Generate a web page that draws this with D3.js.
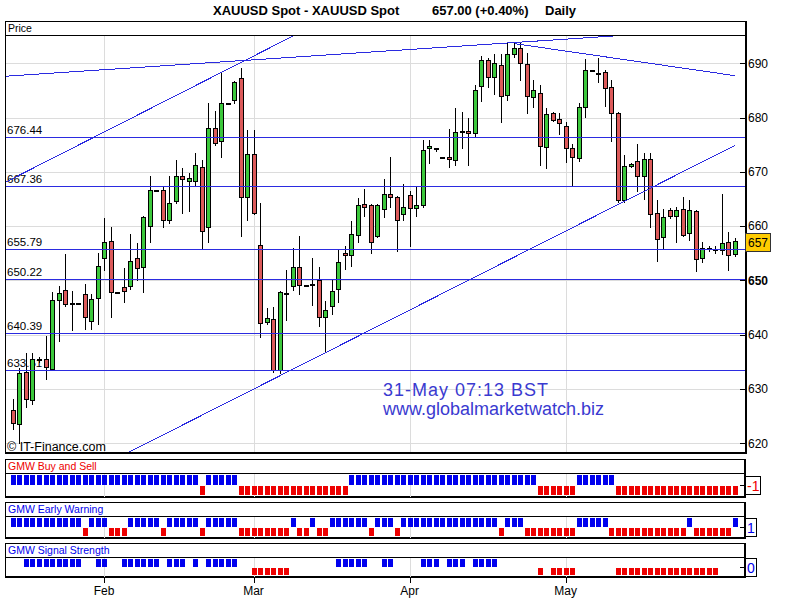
<!DOCTYPE html>
<html><head><meta charset="utf-8">
<script src="https://cdn.jsdelivr.net/npm/d3@7"></script>
<style>
body{margin:0;background:#fff}
svg{display:block}
text{font-family:"Liberation Sans",Arial,sans-serif}
</style>
</head><body>
<svg id="c" width="800" height="600"></svg>
<script>
// ---------- data ----------
const opens = [626.1,623.6,633.1,628.0,635.3,635.6,633.7,646.3,648.3,645.8,645.8,647.4,642.6,646.8,654.2,657.2,647.8,648.7,648.9,654.2,
652.5,660.1,666.7,666.6,661.2,664.6,669.2,668.3,668.3,670.8,659.9,678.0,675.6,682.6,683.3,687.2,665.3,673.2,656.6,642.3,
642.8,633.4,647.6,648.9,652.4,649.2,649.3,650.0,643.2,645.3,648.5,655.1,654.7,658.4,664.0,663.8,658.2,663.1,666.0,665.3,
662.3,665.8,663.4,663.8,674.3,674.4,672.7,672.8,672.2,677.5,677.5,677.1,685.8,690.6,687.4,689.6,684.2,691.7,692.8,689.9,
683.7,684.6,674.5,680.9,679.8,678.5,674.3,672.6,682.0,688.8,688.2,688.3,685.7,680.8,664.8,671.0,671.9,669.3,672.3,662.5,
657.9,663.0,661.9,663.1,658.8,662.7,654.2,655.9,655.7,655.6,657.0,654.8];
const highs = [628.1,633.8,636.6,636.6,635.9,639.8,647.8,649.0,654.8,648.0,645.8,649.3,647.4,655.0,661.5,659.9,647.8,652.2,658.5,656.8,
661.8,669.2,666.7,667.2,669.2,672.1,670.7,669.8,673.4,672.1,682.6,681.2,688.3,682.6,686.8,689.2,677.7,677.7,664.2,644.9,
645.1,648.1,651.9,655.9,658.1,649.2,654.1,652.5,646.2,650.2,655.7,656.3,661.0,665.1,666.8,664.0,664.0,668.6,672.8,665.5,
667.7,666.4,667.4,675.8,675.8,674.4,672.7,677.8,681.7,681.0,679.9,685.9,691.3,691.0,691.7,691.7,693.7,693.8,693.7,691.8,
686.9,685.9,681.8,681.0,680.8,679.2,675.1,682.6,690.7,688.8,690.9,688.8,686.9,681.0,673.1,671.6,675.2,673.5,673.5,664.8,
663.1,663.4,663.5,665.3,664.8,662.9,657.1,656.3,656.4,665.9,658.9,657.8];
const lows = [622.7,620.1,626.7,627.2,635.0,631.9,633.5,638.8,645.2,640.8,645.8,641.0,641.0,642.0,652.0,643.2,647.8,646.0,648.4,650.1,
647.9,657.1,666.7,659.9,660.5,664.3,662.5,662.8,667.6,655.9,657.1,674.9,672.7,682.6,682.6,658.2,661.1,662.2,639.6,641.9,
633.1,633.0,642.7,648.2,647.4,649.2,645.5,641.6,637.0,643.8,646.0,652.1,652.7,657.0,661.9,655.1,658.0,661.7,663.5,655.4,
661.2,656.3,661.9,663.6,671.6,673.8,672.7,670.8,671.3,674.4,671.3,676.6,683.1,685.7,684.4,679.1,683.2,691.2,686.9,680.8,
682.0,671.3,670.7,679.4,677.0,671.8,667.5,672.0,680.1,688.8,686.6,682.1,675.7,664.5,664.5,670.9,666.5,664.9,659.9,653.6,
655.9,661.5,657.1,658.2,657.4,651.7,653.4,655.5,655.0,654.8,652.0,654.4];
const closes = [623.8,632.9,628.2,635.6,635.5,634.1,646.4,647.6,645.7,645.8,645.8,643.2,646.5,652.7,657.0,647.8,647.8,648.1,653.5,652.2,
661.6,666.7,666.7,661.2,664.2,669.3,668.6,668.9,671.2,659.1,678.0,675.3,682.6,682.6,686.6,665.3,673.2,662.5,642.2,643.0,
633.4,647.8,647.6,652.4,649.2,649.2,649.3,643.2,644.5,648.0,653.3,654.7,658.6,663.8,663.6,657.0,663.8,666.0,665.4,661.1,
663.6,663.4,663.8,674.1,674.7,674.4,672.7,672.4,677.4,677.5,677.2,685.0,690.6,687.5,690.0,684.0,691.7,692.8,690.1,683.9,
685.0,674.7,680.7,679.6,678.9,674.3,672.8,682.0,688.7,688.8,688.2,685.5,680.9,664.8,671.0,671.5,669.2,672.3,662.3,657.7,
661.6,661.8,662.9,658.4,662.9,654.0,655.9,655.9,655.7,656.8,654.6,657.2];

// indicator signals per bar: 1 = blue (up), -1 = red (down), 0 = none
const buySell = [1,1,1,1,1,1,1,1,1,1,1,1,1,1,1,1,1,1,1,1,1,1,1,1,1,1,1,1,1,-1,
1,1,1,1,1,-1,-1,-1,-1,-1,-1,-1,-1,-1,-1,-1,-1,-1,-1,-1,-1,-1,
1,1,1,1,1,1,1,1,1,1,1,1,1,1,1,1,1,1,1,1,1,1,1,1,1,1,1,1,1,
-1,-1,-1,-1,-1,-1,1,1,1,1,1,1,
-1,-1,-1,-1,-1,-1,-1,-1,-1,-1,-1,-1,-1,-1,-1,-1,-1,-1,-1];
const earlyWarning = [1,1,1,1,1,1,1,1,1,1,1,-1,1,1,1,-1,-1,-1,1,1,1,1,1,-1,1,1,1,1,1,-1,
1,1,1,1,1,-1,-1,-1,-1,-1,-1,-1,-1,1,-1,-1,1,-1,-1,1,1,1,1,1,1,-1,1,1,1,-1,
1,1,1,1,1,1,1,1,1,1,1,1,1,1,1,-1,1,1,1,-1,-1,-1,-1,-1,-1,-1,-1,
1,1,1,1,1,-1,-1,-1,-1,-1,-1,-1,-1,-1,-1,-1,-1,1,-1,-1,-1,-1,-1,-1,1];
const signalStrength = [0,0,1,1,1,1,1,1,1,1,1,0,0,1,1,0,0,1,1,1,1,1,1,0,1,1,1,0,1,0,
1,1,1,1,1,0,0,-1,-1,-1,-1,-1,-1,0,0,0,0,0,0,0,1,1,1,1,1,0,0,1,1,0,
0,0,0,1,1,1,0,1,1,1,0,1,1,1,1,0,0,0,0,0,0,-1,0,-1,-1,-1,-1,0,0,0,
0,0,0,-1,-1,-1,-1,-1,-1,-1,-1,-1,-1,-1,-1,-1,-1,-1,-1,0,0,0];

const monthLabels = ["Feb","Mar","Apr","May"];
const monthIndex = [14,37,61,85];
const priceTicks = [620,630,640,650,660,670,680,690];
const levels = [676.44,667.36,655.79,650.22,640.39,633.51];
const levelLabels = ["676.44","667.36","655.79","650.22","640.39","633.51"];
// trend lines as [barIndex, price] pairs
const trendA = [[-2,667.57],[45,696.19]];
const trendB = [[-1.23,687.6],[93.4,695.1]];
const trendC = [[77.2,693.6],[111.1,687.7]];
const trendD = [[10,613.6],[111.1,674.9]];
const lastPrice = "657";
const titleParts = ["XAUUSD Spot - XAUUSD Spot", "657.00 (+0.40%)", "Daily"];
const panelNames = ["GMW Buy and Sell","GMW Early Warning","GMW Signal Strength"];
const panelValues = ["-1","1","0"];

// ---------- drawing ----------
const svg = d3.select("#c");
const L = 5, R = 745, T = 35, B = 453, TT = 21;
const x = d3.scaleLinear().domain([-1.23, 112.6]).range([L, R]);
const y = d3.scaleLinear().domain([618.2, 695.2]).range([B, T]);
const idx = d3.range(opens.length);
const blueLine = "#2b2be0";
const gridC = "#dcdcdc";

// title
const titleX = [213, 432, 545];
svg.selectAll(".title").data(titleParts).join("text")
  .attr("x", (d,i) => titleX[i]).attr("y", 15).attr("font-size", 13).attr("font-weight","bold")
  .text(d => d);

// main frame background
svg.append("rect").attr("x", L).attr("y", TT).attr("width", R-L).attr("height", B-TT).attr("fill","#fff");
svg.append("defs").append("clipPath").attr("id","pc").append("rect")
  .attr("x", L).attr("y", T).attr("width", R-L).attr("height", B-T);

const plot = svg.append("g");
// grid
plot.selectAll(".hg").data(priceTicks).join("line")
  .attr("x1", L).attr("x2", R).attr("y1", d => Math.round(y(d))+0.5).attr("y2", d => Math.round(y(d))+0.5)
  .attr("stroke", gridC);
plot.selectAll(".vg").data(monthIndex).join("line")
  .attr("x1", d => Math.round(x(d))+0.5).attr("x2", d => Math.round(x(d))+0.5)
  .attr("y1", T).attr("y2", B).attr("stroke", gridC);

// level labels (under candles)
plot.selectAll(".ll").data(levels).join("text")
  .attr("x", 7).attr("y", d => Math.round(y(d)) - 3).attr("font-size", 11.5).attr("fill","#000")
  .text((d,i) => levelLabels[i]);

// watermark texts
svg.append("text").attr("x", 7).attr("y", 451).attr("font-size", 12.5).text("© IT-Finance.com");
svg.append("text").attr("x", 383).attr("y", 396).attr("font-size", 18).attr("fill","#3a3ad0")
  .attr("textLength", 165).text("31-May 07:13 BST");
svg.append("text").attr("x", 383).attr("y", 415).attr("font-size", 18).attr("fill","#3a3ad0").text("www.globalmarketwatch.biz");

// candles
const cg = plot.append("g").attr("clip-path","url(#pc)").attr("shape-rendering","crispEdges");
cg.selectAll(".wick").data(idx).join("line")
  .attr("x1", i => Math.round(x(i))+0.5).attr("x2", i => Math.round(x(i))+0.5)
  .attr("y1", i => Math.round(y(highs[i]))).attr("y2", i => Math.round(y(lows[i]))+1)
  .attr("stroke","#000");
cg.selectAll(".body").data(idx).join("rect")
  .attr("x", i => Math.round(x(i))-1.5).attr("width", 4)
  .attr("y", i => Math.round(y(Math.max(opens[i],closes[i])))+0.5)
  .attr("height", i => Math.max(1, Math.round(y(Math.min(opens[i],closes[i]))) - Math.round(y(Math.max(opens[i],closes[i])))))
  .attr("fill", i => closes[i] > opens[i] + 0.15 ? "#3cc83c" : (closes[i] < opens[i] - 0.15 ? "#dc5a5a" : "#000"))
  .attr("stroke","#000");

// level lines and trend lines on top
const lg = plot.append("g").attr("clip-path","url(#pc)");
lg.selectAll(".lv").data(levels).join("line")
  .attr("x1", L).attr("x2", R).attr("y1", d => Math.round(y(d))+0.5).attr("y2", d => Math.round(y(d))+0.5)
  .attr("stroke", blueLine).attr("shape-rendering","crispEdges");
const line = d3.line().x(d => x(d[0])).y(d => y(d[1]));
lg.selectAll(".tl").data([trendA, trendB, trendC, trendD]).join("path")
  .attr("d", line).attr("fill","none").attr("stroke", blueLine).attr("stroke-width", 1)
  .attr("shape-rendering","crispEdges");

// frame
svg.append("rect").attr("x", L+0.5).attr("y", TT+0.5).attr("width", R-L).attr("height", B-TT-1)
  .attr("fill","none").attr("stroke","#000");
svg.append("line").attr("x1", L).attr("x2", R+1).attr("y1", T+0.5).attr("y2", T+0.5).attr("stroke","#000");
svg.append("line").attr("x1", R+1.5).attr("x2", R+1.5).attr("y1", TT).attr("y2", B+1).attr("stroke","#000");
svg.append("line").attr("x1", L).attr("x2", R+2).attr("y1", B+0.5).attr("y2", B+0.5).attr("stroke","#000");
svg.append("text").attr("x", 8).attr("y", 32).attr("font-size", 10.5).text("Price");

// right axis
const ax = svg.append("g");
ax.selectAll(".tk").data(priceTicks).join("line")
  .attr("x1", R-5).attr("x2", R).attr("y1", d => Math.round(y(d))+0.5).attr("y2", d => Math.round(y(d))+0.5)
  .attr("stroke","#000").attr("shape-rendering","crispEdges");
ax.selectAll(".tl").data(priceTicks).join("text")
  .attr("x", R+3).attr("y", d => y(d)).attr("dy","0.36em").attr("font-size", 12)
  .attr("font-weight", d => d === 650 ? "bold" : "normal").text(d => d);
// last price box
const lp = svg.append("g");
lp.append("rect").attr("x", R+0.5).attr("y", Math.round(y(+lastPrice))-8.5).attr("width", 25).attr("height", 18)
  .attr("fill","#ffcc00").attr("stroke","#333");
lp.append("text").attr("x", R+3).attr("y", y(+lastPrice)).attr("dy","0.36em").attr("font-size", 12).text(lastPrice);

// ---------- indicator panels ----------
const panels = [
  {top:459, sep:473, bottom:497, data: buySell, titleColor:"#ee0000", valColor:"#ee0000"},
  {top:502, sep:516, bottom:538, data: earlyWarning, titleColor:"#0000ee", valColor:"#0000ee"},
  {top:543, sep:557, bottom:577, data: signalStrength, titleColor:"#0000ee", valColor:"#0000ee"}
];
panels.forEach((p, k) => {
  const g = svg.append("g").attr("shape-rendering","crispEdges");
  g.append("rect").attr("x", L+0.5).attr("y", p.top+0.5).attr("width", R-L-1).attr("height", p.bottom-p.top-1)
    .attr("fill","#fff").attr("stroke","#000");
  g.selectAll(".vg").data(monthIndex).join("line")
    .attr("x1", d => Math.round(x(d))+0.5).attr("x2", d => Math.round(x(d))+0.5)
    .attr("y1", p.sep).attr("y2", p.bottom).attr("stroke", gridC);
  g.append("line").attr("x1", L).attr("x2", R).attr("y1", p.sep+0.5).attr("y2", p.sep+0.5).attr("stroke","#000");
  g.append("line").attr("x1", L).attr("x2", R+1).attr("y1", p.bottom+0.5).attr("y2", p.bottom+0.5).attr("stroke","#000");
  g.append("line").attr("x1", R+0.5).attr("x2", R+0.5).attr("y1", p.top).attr("y2", p.bottom+1).attr("stroke","#000");
  const py = d3.scaleLinear().domain([-1, 1]).range([p.bottom-2, p.sep+1.5]);
  const bars = idx.filter(i => p.data[i] !== 0);
  g.selectAll(".bar").data(bars).join("rect")
    .attr("x", i => Math.round(x(i))-2).attr("width", 5)
    .attr("y", i => p.data[i] > 0 ? py(p.data[i]) : py(0)+1)
    .attr("height", i => p.data[i] > 0 ? py(0)-py(p.data[i]) : py(p.data[i])-py(0)-1)
    .attr("fill", i => p.data[i] > 0 ? "#0000ee" : "#ee0000");
  g.append("text").attr("x", 8).attr("y", p.sep-3).attr("font-size", 10.5).attr("fill", p.titleColor)
    .text(panelNames[k]);
  // value box
  const vb = g.append("g");
  vb.append("line").attr("x1", R-5).attr("x2", R).attr("y1", Math.round(py(0))+0.5).attr("y2", Math.round(py(0))+0.5).attr("stroke","#000");
  const w = panelValues[k].length > 1 ? 15 : 11;
  vb.append("rect").attr("x", R+0.5).attr("y", Math.round(py(0))-8.5).attr("width", w).attr("height", 18)
    .attr("fill","#fff").attr("stroke","#000");
  vb.append("text").attr("x", R+2).attr("y", py(0)+1).attr("dy","0.36em").attr("font-size", 14)
    .attr("fill", p.valColor).text(panelValues[k]);
});

// x axis
const xa = svg.append("g").attr("shape-rendering","crispEdges");
xa.selectAll("line").data(monthIndex).join("line")
  .attr("x1", d => Math.round(x(d))+0.5).attr("x2", d => Math.round(x(d))+0.5)
  .attr("y1", 577).attr("y2", 583).attr("stroke","#000");
xa.selectAll("text").data(monthIndex).join("text")
  .attr("x", d => x(d)).attr("y", 595).attr("text-anchor","middle").attr("font-size", 12)
  .text((d,i) => monthLabels[i]);
</script>
</body></html>
